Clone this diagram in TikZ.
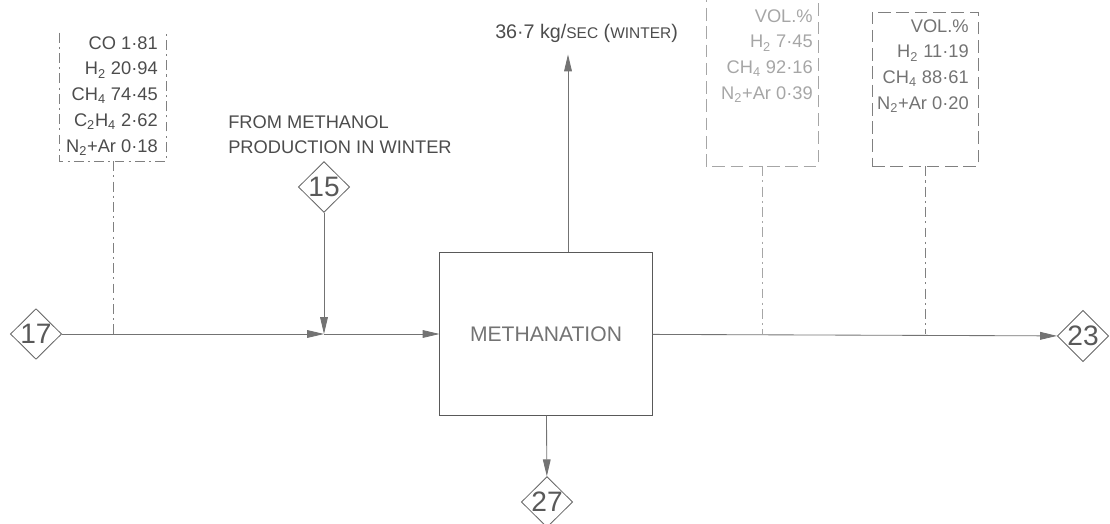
\documentclass[tikz,border=0pt]{standalone}
\usepackage{fontspec}
\setmainfont{Liberation Sans}
\usetikzlibrary{positioning,arrows.meta,shapes.geometric}

\begin{document}
\begin{tikzpicture}[x=0.025cm,y=-0.025cm,
  line/.style={draw=black!55,line width=0.6pt},
  flow/.style={line,-{Triangle[length=12pt,width=5.5pt]}},
  strm/.style={diamond,draw=black!60,line width=0.6pt,inner sep=0pt,minimum width=1.28cm,minimum height=1.25cm,text=black!65,font=\fontsize{20}{20}\selectfont},
  anal/.style={align=right,anchor=east,inner sep=0pt,font=\fontsize{13}{18.4}\selectfont},
  dashdot/.style={draw=black!50,line width=0.5pt,dash pattern=on 7pt off 3pt on 1.5pt off 3pt},
  dashbox/.style={draw=black!35,line width=0.5pt,dash pattern=on 9pt off 4pt},
  lbl/.style={text=black!70,inner sep=0pt,font=\fontsize{13}{17.7}\selectfont}]
  \useasboundingbox (0,0) rectangle (1110,524);
  % stream numbers
  \node[strm] (s17) at (36,334){17};
  \node[strm] (s15) at (324,187){15};
  \node[strm] (s23) at (1083,336){23};
  \node[strm] (s27) at (547,502){27};
  \node[draw=black!65,line width=0.7pt,minimum width=5.3cm,minimum height=4.05cm,text=black!55,font=\fontsize{15}{15}\selectfont] (meth) at (546,334){METHANATION};
  \coordinate (j15) at (324,334);
  \node[lbl,align=left,anchor=west] (from) at (228,135){FROM METHANOL\\PRODUCTION IN WINTER};
  \node[lbl,anchor=west,font=\fontsize{14}{14}\selectfont] (rate) at (495,33){36·7 kg/{\fontsize{11}{11}\selectfont SEC} ({\fontsize{11}{11}\selectfont WINTER})};
  % analyses (vol. %)
  \node[anal,text=black!70] (lbox) at (158,96){CO 1·81\\H\textsubscript{2} 20·94\\CH\textsubscript{4} 74·45\\C\textsubscript{2}H\textsubscript{4} 2·62\\N\textsubscript{2}+Ar 0·18};
  \node[minimum width=2.65cm,minimum height=3.2cm] (lfr) at (113,97){};
  \draw[dashdot] (lfr.north west)--(lfr.south west)--(lfr.south east)--(lfr.north east);
  \node[anal,text=black!35] (mbox) at (813,56){VOL.\%\\H\textsubscript{2} 7·45\\CH\textsubscript{4} 92·16\\N\textsubscript{2}+Ar 0·39};
  \node[minimum width=2.78cm,minimum height=4.4cm] (mfr) at (762,78){};
  \draw[dashbox] (mfr.north west)--(mfr.south west)--(mfr.south east)--(mfr.north east);
  \node[anal,text=black!55] (rbox) at (969,66){VOL.\%\\H\textsubscript{2} 11·19\\CH\textsubscript{4} 88·61\\N\textsubscript{2}+Ar 0·20};
  \node[dashbox,draw=black!50,minimum width=2.65cm,minimum height=3.85cm] (rfr) at (925,89){};
  % flows
  \draw[flow](s17)--(j15);\draw[flow](j15)--(meth);
  \draw[flow](s15)--(j15);
  \draw[flow](meth)--(s23);
  \draw[flow](meth)--(s27);
  \coordinate (mup) at ([xshift=0.55cm]meth.north);
  \draw[flow](mup)--([yshift=-0.3cm]mup|-rate.south);
  \draw[dashdot](lfr.south)--(lfr.south|-s17);
  \draw[dashdot,draw=black!35](mfr.south)--(mfr.south|-meth.east);
  \draw[dashdot](rfr.south)--(rfr.south|-meth.east);
\end{tikzpicture}
\end{document}
